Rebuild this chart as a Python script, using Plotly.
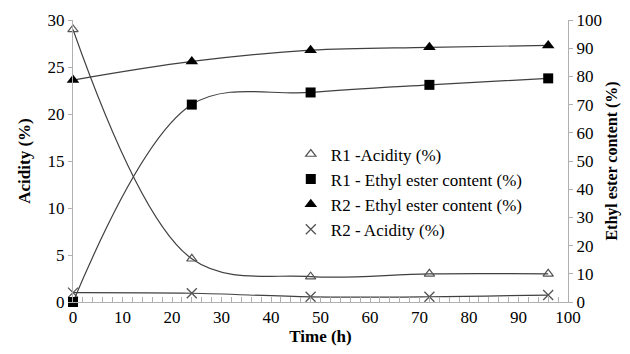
import plotly.graph_objects as go

time_h = [0, 24, 48, 72, 96]
r1_acidity = [29.0, 4.6, 2.7, 3.0, 3.0]
r2_acidity = [1.0, 0.93, 0.55, 0.56, 0.74]
r1_ester = [0.0, 70.0, 74.3, 77.0, 79.3]
r2_ester = [78.7, 85.3, 89.3, 90.3, 91.0]

FONT = "'Liberation Serif', 'Times New Roman', Times, serif"
LINE = dict(color="#404040", width=1.2, shape="spline", smoothing=1.0)

fig = go.Figure()

series = [
    ("R1 -Acidity (%)", r1_acidity, "y", dict(symbol="triangle-up-open", size=9, color="#555555", line=dict(width=1.2, color="#555555"))),
    ("R1 - Ethyl ester content (%)", r1_ester, "y2", dict(symbol="square", size=10, color="black")),
    ("R2 - Ethyl ester content (%)", r2_ester, "y2", dict(symbol="triangle-up", size=11, color="black")),
    ("R2 - Acidity (%)", r2_acidity, "y", dict(symbol="x-thin-open", size=10, color="#555555", line=dict(width=1.3, color="#555555"))),
]

for name, vals, ax, mk in series:
    fig.add_trace(go.Scatter(x=time_h, y=vals, yaxis=ax, mode="lines", line=LINE,
                             showlegend=False, hoverinfo="skip"))
for name, vals, ax, mk in series:
    fig.add_trace(go.Scatter(x=time_h, y=vals, yaxis=ax, mode="markers", marker=mk,
                             name=name, cliponaxis=False))

fig.update_layout(
    width=622, height=338,
    margin=dict(l=65, r=62, t=12, b=44),
    paper_bgcolor="white", plot_bgcolor="white",
    font=dict(family=FONT, size=17, color="black"),
    xaxis=dict(range=[0, 100], dtick=10, showline=True, linecolor="#b0b0b0", linewidth=1,
               automargin=False,
               showgrid=False, zeroline=False, ticks="inside", ticklen=5, tickcolor="#b0b0b0",
               minor=dict(dtick=2, ticks="inside", ticklen=5, tickcolor="#b0b0b0"),
               title=dict(text="<b>Time (h)</b>", font=dict(size=17), standoff=4)),
    yaxis=dict(range=[0, 30], dtick=5, showline=True, linecolor="#b0b0b0", linewidth=1,
               automargin=False,
               showgrid=False, zeroline=False, ticks="outside", ticklen=4, tickcolor="#b0b0b0",
               title=dict(text="<b>Acidity (%)</b>", font=dict(size=17), standoff=12)),
    yaxis2=dict(range=[0, 100], dtick=10, overlaying="y", side="right", showline=True,
                automargin=False,
                linecolor="#b0b0b0", linewidth=1, showgrid=False, zeroline=False,
                ticks="outside", ticklen=4, tickcolor="#b0b0b0"),
    legend=dict(x=0.44, y=0.587, xanchor="left", yanchor="top", bgcolor="rgba(0,0,0,0)",
                font=dict(size=17), tracegroupgap=0, itemwidth=30),
    annotations=[dict(text="<b>Ethyl ester content (%)</b>", textangle=-90,
                      xref="paper", yref="paper", x=1.088, y=0.5,
                      xanchor="center", yanchor="middle", showarrow=False,
                      font=dict(size=16))],
)

fig.write_html("out.html")
